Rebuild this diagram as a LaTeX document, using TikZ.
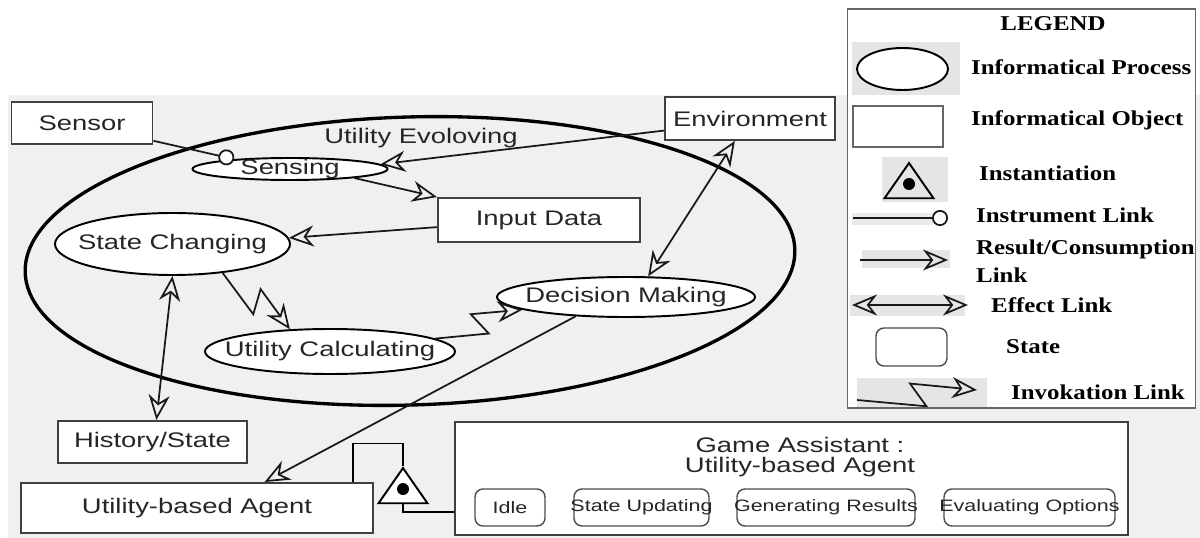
\documentclass[tikz,border=0pt]{standalone}
\usepackage{fontspec}
\setmainfont{Liberation Sans}[FakeStretch=1.3]
\newfontfamily\legendfont{Liberation Serif}[FakeStretch=1.18]
\usetikzlibrary{shapes.geometric,arrows.meta,calc}

\tikzset{
  hollow/.tip={Stealth[open, length=5mm, width=4.2mm, inset=1.6mm]},
  link/.style={line width=1pt, draw=black!90},
  res/.style={link, -hollow},
  eff/.style={link, hollow-hollow},
  instr/.style={link, -{Circle[length=3.2mm, fill=white]}},
  invoke/.style={res, to path={-- ($(\tikztostart)!0.57!(\tikztotarget)!2.4mm!-90:(\tikztotarget)$)
      -- ($(\tikztostart)!0.45!(\tikztotarget)!2.4mm!90:(\tikztotarget)$) -- (\tikztotarget) \tikztonodes}},
  obj/.style={draw=black!75, line width=1.1pt, fill=white, inner sep=0pt},
  procshape/.style={ellipse, draw, line width=1.1pt, fill=white, inner sep=0pt},
  proc/.style={procshape, label={center:#1}},
  stbox/.style={draw=black!70, line width=0.8pt, fill=white, rounded corners=1.6mm, inner sep=0pt,
      minimum height=7.4mm, label={[font=\fontsize{9.4}{11}\selectfont]center:#1}},
  inst/.style={regular polygon, regular polygon sides=3, draw, line width=1.1pt, fill=white,
      inner sep=0pt, minimum size=11.3mm, yscale=0.83},
  instdot/.style={circle, fill=black, inner sep=0pt, minimum size=2.4mm},
  legtxt/.style={anchor=west, text=black, font=\legendfont\bfseries\fontsize{12}{16}\selectfont, align=left}
}

\begin{document}
\begin{tikzpicture}[x=0.2mm, y=-0.2mm, font=\fontsize{12}{14}\selectfont, text=black!85]
  \useasboundingbox (0,0) rectangle (1200,538);
  \fill[black!6] (8,95) rectangle (1200,538);

  % Agent scope
  \node[ellipse, draw, line width=1.9pt, inner sep=0pt, minimum width=154mm,
        minimum height=57.6mm, rotate=1.7] (loop) at (410,261) {};
  \node (evolving) at (421,138) {Utility Evoloving};

  % Objects
  \node[obj, minimum width=28.2mm, minimum height=8.4mm] (sensor) at (82,123) {Sensor};
  \node[obj, minimum width=34mm, minimum height=8.6mm] (environment) at (750,118.5) {Environment};
  \node[obj, minimum width=40.4mm, minimum height=8.8mm] (input) at (539,220) {Input Data};
  \node[obj, minimum width=37.8mm, minimum height=8.4mm] (history) at (152.5,442) {History/State};
  \node[obj, minimum width=70.4mm, minimum height=10mm] (agent) at (197,508) {Utility-based Agent};

  % Processes
  \node[proc=Sensing, minimum width=39mm, minimum height=4.4mm] (sensing) at (290,169) {};
  \node[proc=State Changing, minimum width=47mm, minimum height=12.4mm] (statech) at (172.5,244) {};
  \node[proc=Utility Calculating, minimum width=50mm, minimum height=9mm] (utilcalc) at (330,351.5) {};
  \node[proc=Decision Making, minimum width=51.6mm, minimum height=8mm] (decision) at (626,297) {};

  % Links
  \draw[instr] (sensor.-14) -- (sensing.170);
  \draw[res] (environment.188) -- (sensing.3);
  \draw[res] (sensing.-8) -- (input.north west);
  \draw[res] (input.184) -- (statech.3);
  \draw[eff] (statech.south) -- (history.80);
  \draw[invoke] (statech.-30) to (utilcalc.151);
  \draw[invoke] (utilcalc.7) to (decision.187);
  \draw[eff] (environment.-124) -- (decision.43);
  \draw[res] (decision.201) -- (agent.21);

  % Game assistant instance
  \node[obj, minimum width=134.6mm, minimum height=22.6mm] (game) at (791.5,478.5) {};
  \node[align=center, font=\fontsize{12}{11.5}\selectfont] (gametitle) at (800,457)
       {Game Assistant :\\Utility-based Agent};
  \node[stbox=Idle, minimum width=14mm] (idle) at (510,507.5) {};
  \node[stbox=State Updating, minimum width=27mm] (updating) at (641.5,507.5) {};
  \node[stbox=Generating Results, minimum width=35.6mm] (generating) at (826,507.5) {};
  \node[stbox=Evaluating Options, minimum width=34.2mm] (evaluating) at (1029.5,507.5) {};

  \node[inst] (inst) at (403,491.5) {};
  \node[instdot] (instd) at (403,489) {};
  \draw[thick] ([xshift=-4.2mm]agent.north east) |- ([yshift=4.6mm]inst.corner 1) -- (inst.corner 1);
  \draw[thick] (inst.side 2) |- ([yshift=-6.7mm]game.west);

  % Legend
  \node[draw=black!60, line width=1pt, fill=white, minimum width=69.6mm, minimum height=79.8mm]
       (legend) at (1021.5,208.5) {};
  \fill[black!10] (852,42) rectangle (960,95);
  \fill[black!10] (882,157) rectangle (948,202);
  \fill[black!8] (852,213) rectangle (933,225);
  \fill[black!10] (862,250) rectangle (950,268);
  \fill[black!10] (850,295) rectangle (965,316);
  \fill[black!10] (857,378) rectangle (987,407);
  \node[text=black, font=\legendfont\bfseries\fontsize{12}{14}\selectfont] (legtitle) at (1053,24) {LEGEND};

  \node[procshape, minimum width=18.2mm, minimum height=8.4mm] (legproc) at (902.5,69) {};
  \node[legtxt] (legproctxt) at (965,67) {Informatical Process};
  \node[obj, draw=black!60, minimum width=18mm, minimum height=8.2mm] (legobj) at (898,126.5) {};
  \node[legtxt] (legobjtxt) at (965,120) {Informatical Object};
  \node[inst, fill=none] (leginst) at (909,186.5) {};
  \node[instdot] (leginstd) at (909,184) {};
  \node[legtxt] (leginsttxt) at (973,173) {Instantiation};

  \coordinate (insA) at (853,218);
  \coordinate (insB) at (948,218);
  \draw[instr] (insA) -- (insB);
  \node[legtxt] (legins) at (970,215) {Instrument Link};

  \coordinate (resA) at (860,260);
  \coordinate (resB) at (948,260);
  \draw[res] (resA) -- (resB);
  \node[legtxt] (legres) at (970,261) {Result/Consumption\\Link};

  \coordinate (effA) at (852,305);
  \coordinate (effB) at (968,305);
  \draw[eff] (effA) -- (effB);
  \node[legtxt] (legeff) at (985,305) {Effect Link};

  \node[stbox={}, minimum width=14.2mm, minimum height=7.6mm] (legstate) at (911.5,347) {};
  \node[legtxt] (legstatetxt) at (1000,347) {State};

  \coordinate (invA) at (857,400);
  \coordinate (invB) at (977,390);
  \draw[invoke] (invA) to (invB);
  \node[legtxt] (leginv) at (1005,392) {Invokation Link};
\end{tikzpicture}
\end{document}
